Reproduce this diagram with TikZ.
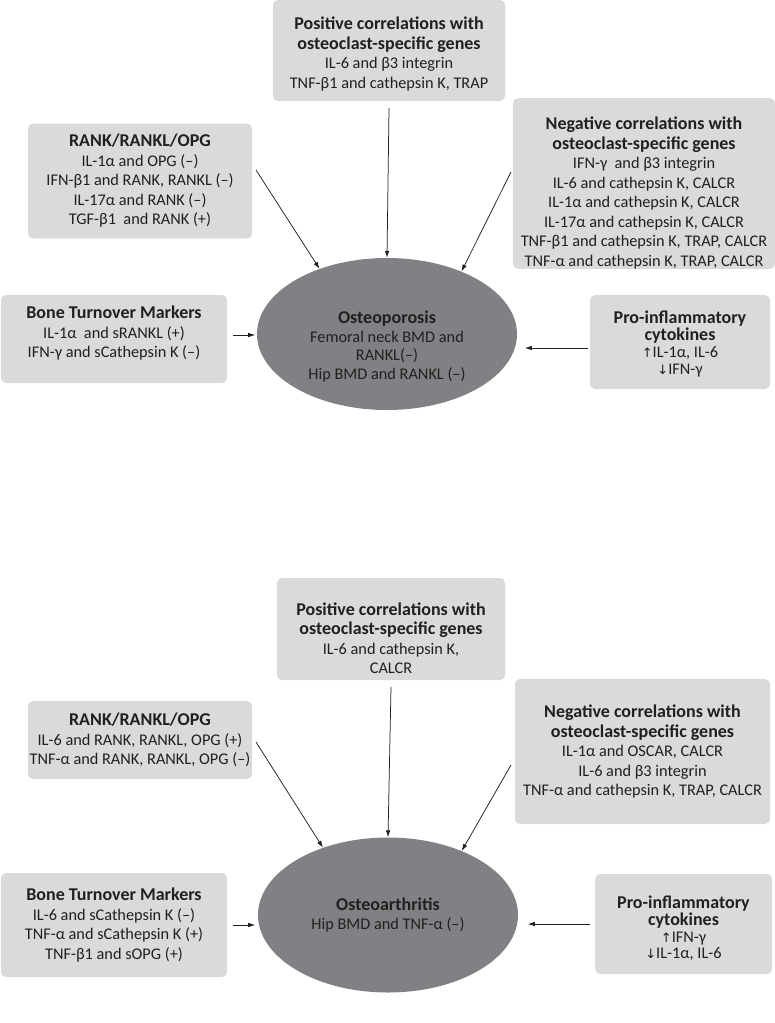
\documentclass[tikz,border=0pt]{standalone}
\usepackage{fontspec}
\setmainfont{Carlito}
\newfontfamily\dv{DejaVu Sans}
\usetikzlibrary{arrows.meta,shapes.geometric}
\definecolor{boxgray}{RGB}{217,218,219}
\definecolor{ellgray}{RGB}{128,129,132}
\definecolor{txt}{RGB}{35,31,32}
\newcommand\ttl[1]{{\fontsize{18}{20}\selectfont\bfseries #1}}
\newcommand\up{{\dv\fontsize{13}{13}\selectfont↑}}
\newcommand\dn{{\dv\fontsize{13}{13}\selectfont↓}}
% push the text block down (first line) or up (last line) by #1
\newcommand\pdown[1]{\rule{0pt}{\dimexpr 13.5pt+#1*2\relax}}
\newcommand\pup[1]{\rule[\dimexpr -4.5pt-#1*2\relax]{0pt}{0pt}}
\tikzset{
  infobox/.style={fill=boxgray, rounded corners=5pt, inner sep=0pt, align=center, text=txt,
    font=\fontsize{16.3}{19.5}\selectfont},
  tightbox/.style={infobox, font=\fontsize{16.3}{16.8}\selectfont},
  disease/.style={ellipse, fill=ellgray, inner sep=0pt, align=center, text=txt,
    font=\fontsize{16.3}{18.5}\selectfont},
  conn/.style={draw=txt, line width=0.75pt, -{Latex[length=7pt,width=4.5pt]}}
}
\begin{document}
\begin{tikzpicture}[x=1pt,y=-1pt]
\useasboundingbox (0,0) rectangle (775,1023);
% ---------- Osteoporosis ----------
\node[infobox, minimum width=232, minimum height=101] (tpos) at (389,50.5)
 {\pdown{3pt}\ttl{Positive correlations with}\\ \ttl{osteoclast-specific genes}\\ IL-6 and β3 integrin\\ TNF-β1 and cathepsin K, TRAP};
\node[infobox, minimum width=224, minimum height=115] (trank) at (140,181)
 {\ttl{RANK/RANKL/OPG}\\ IL-1α and OPG (–)\\ IFN-β1 and RANK, RANKL (–)\\ IL-17α and RANK (–)\\ TGF-β1\ \ and RANK (+)};
\node[infobox, minimum width=262, minimum height=167] (tneg) at (644,183.5)
 {\pdown{9pt}\ttl{Negative correlations with}\\ \ttl{osteoclast-specific genes}\\ IFN-γ\ \ and β3 integrin\\ IL-6 and cathepsin K, CALCR\\ IL-1α and cathepsin K, CALCR\\ IL-17α and cathepsin K, CALCR\\ TNF-β1 and cathepsin K, TRAP, CALCR\\ TNF-α and cathepsin K, TRAP, CALCR};
\node[infobox, minimum width=226, minimum height=88] (tbone) at (114,339)
 {\ttl{Bone Turnover Markers}\\ IL-1α\ \ and sRANKL (+)\\ IFN-γ and sCathepsin K (–)\pup{5pt}};
\node[tightbox, minimum width=180, minimum height=94] (tpro) at (680,342)
 {\pdown{1.5pt}\ttl{Pro-inflammatory}\\ \ttl{cytokines}\\ \up IL-1α, IL-6\\ \dn IFN-γ};
\node[disease, minimum width=260, minimum height=152] (tell) at (387,334)
 {\pdown{12pt}\ttl{Osteoporosis}\\ Femoral neck BMD and\\ RANKL(–)\\ Hip BMD and RANKL (–)};
\coordinate (ta) at (256,170);
\coordinate (tb) at (511,172);
\draw[conn] (tpos.south) ++(0,7) -- (tell.north);
\draw[conn] (ta) -- (tell.136);
\draw[conn] (tb) -- (tell.40);
\draw[conn] (tbone.east) ++(6,-4) -- ++(22,0);
\draw[conn] (tpro.west) ++(-2,6) -- ++(-63,0);
% ---------- Osteoarthritis ----------
\node[infobox, minimum width=228, minimum height=102] (bpos) at (391,629)
 {\pdown{9pt}\ttl{Positive correlations with}\\ \ttl{osteoclast-specific genes}\\ IL-6 and cathepsin K,\\ CALCR};
\node[infobox, minimum width=224, minimum height=78] (brank) at (140,740)
 {\ttl{RANK/RANKL/OPG}\\ IL-6 and RANK, RANKL, OPG (+)\\ TNF-α and RANK, RANKL, OPG (–)};
\node[infobox, minimum width=255, minimum height=145] (bneg) at (642.5,751.5)
 {\ttl{Negative correlations with}\\ \ttl{osteoclast-specific genes}\\ IL-1α and OSCAR, CALCR\\ IL-6 and β3 integrin\\ TNF-α and cathepsin K, TRAP, CALCR};
\node[infobox, minimum width=226, minimum height=104] (bbone) at (114,925)
 {\ttl{Bone Turnover Markers}\\ IL-6 and sCathepsin K (–)\\ TNF-α and sCathepsin K (+)\\ TNF-β1 and sOPG (+)};
\node[tightbox, minimum width=177, minimum height=100] (bpro) at (683.5,924)
 {\pdown{4pt}\ttl{Pro-inflammatory}\\ \ttl{cytokines}\\ \up IFN-γ\\ \dn IL-1α, IL-6};
\node[disease, minimum width=260, minimum height=155] (bell) at (388,915)
 {\ttl{Osteoarthritis}\\ Hip BMD and TNF-α (–)};
\coordinate (ba) at (256,742);
\coordinate (bb) at (511,765);
\draw[conn] (bpos.south) ++(0,7) -- (bell.north);
\draw[conn] (ba) -- (bell.134);
\draw[conn] (bb) -- (bell.41);
\draw[conn] (bbone.east) ++(6,0) -- ++(22,0);
\draw[conn] (bpro.west) ++(-5,0) -- ++(-62,0);
\end{tikzpicture}
\end{document}
